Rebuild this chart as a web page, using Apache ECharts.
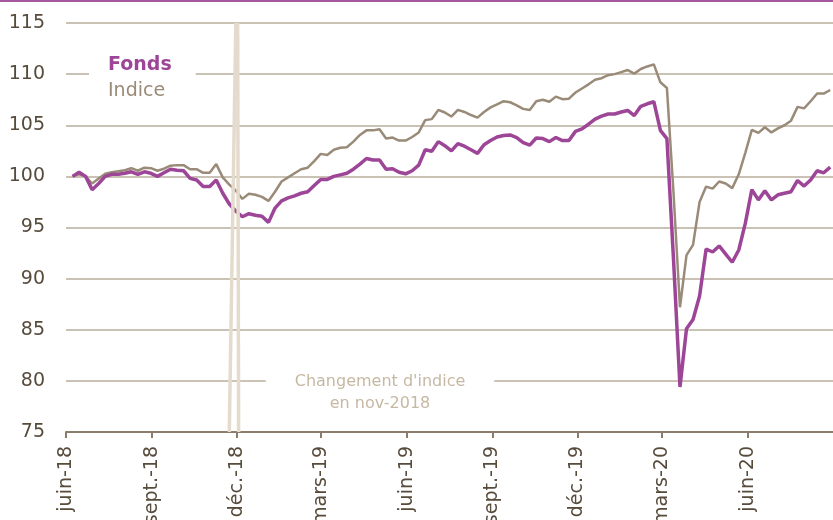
<!DOCTYPE html>
<html>
<head>
<meta charset="utf-8">
<script src="https://cdn.jsdelivr.net/npm/echarts@6/dist/echarts.min.js"></script>
<style>
  html, body { margin: 0; padding: 0; background: #fff; }
  #chart { width: 833px; height: 520px; }
</style>
</head>
<body>
<div id="chart"></div>
<script>
// données hebdomadaires (vendredis), base 100 au 8 juin 2018
var firstDate = '2018-06-08';
var fonds = [
  100.0, 100.4, 100.0, 98.7, 99.3, 100.0, 100.2, 100.2, 100.3, 100.45,
  100.2, 100.45, 100.3, 100.0, 100.35, 100.7, 100.6, 100.55, 99.8, 99.65,
  99.0, 99.0, 99.65, 98.35, 97.3, 96.6, 96.05, 96.35, 96.2, 96.1,
  95.5, 96.9, 97.6, 97.9, 98.1, 98.35, 98.5, 99.1, 99.7, 99.7,
  100.0, 100.15, 100.3, 100.7, 101.2, 101.75, 101.6, 101.6, 100.7, 100.75,
  100.4, 100.25, 100.55, 101.1, 102.6, 102.45, 103.4, 103.0, 102.5, 103.2,
  102.95, 102.6, 102.25, 103.1, 103.5, 103.85, 104.0, 104.05, 103.8, 103.3,
  103.05, 103.75, 103.7, 103.4, 103.8, 103.5, 103.5, 104.4, 104.65, 105.1,
  105.6, 105.9, 106.1, 106.1, 106.3, 106.45, 105.95, 106.85, 107.1, 107.3,
  104.5, 103.7, 92.0, 79.4, 85.1, 86.0, 88.3, 92.9, 92.6, 93.2,
  92.4, 91.6, 92.8, 95.4, 98.7, 97.7, 98.6, 97.7, 98.2, 98.35,
  98.5, 99.6, 99.05, 99.65, 100.55, 100.35, 100.9
];
var indice = [
  100.0, 100.2, 100.0, 99.3, 99.8, 100.25, 100.4, 100.5, 100.6, 100.8,
  100.55, 100.85, 100.8, 100.55, 100.75, 101.05, 101.1, 101.1, 100.7, 100.7,
  100.35, 100.35, 101.2, 99.9, 99.2, 98.6, 97.8, 98.3, 98.2, 98.0,
  97.6, 98.5, 99.5, 99.9, 100.3, 100.7, 100.85, 101.5, 102.2, 102.1,
  102.6, 102.8, 102.85, 103.4, 104.05, 104.5, 104.5, 104.6, 103.7, 103.8,
  103.5, 103.5, 103.85, 104.3, 105.5, 105.6, 106.5, 106.25, 105.85, 106.5,
  106.3, 106.0, 105.75, 106.3, 106.75, 107.05, 107.35, 107.25, 106.95, 106.6,
  106.5, 107.35, 107.5, 107.3, 107.8, 107.55, 107.6, 108.2, 108.6, 109.0,
  109.45, 109.6, 109.9, 110.0, 110.2, 110.4, 110.05, 110.5, 110.75, 110.95,
  109.2, 108.65, 98.5, 87.2, 92.3, 93.3, 97.5, 99.0, 98.8, 99.5,
  99.3, 98.85, 100.2, 102.3, 104.55, 104.25, 104.8, 104.3, 104.7, 105.0,
  105.45, 106.8, 106.65, 107.35, 108.1, 108.1, 108.45
];
var tickDates = ['2018-06-01', '2018-09-01', '2018-12-01', '2019-03-01', '2019-06-01',
                 '2019-09-01', '2019-12-01', '2020-03-01', '2020-06-01'];
var tickLabels = ['juin-18', 'sept.-18', 'déc.-18', 'mars-19', 'juin-19',
                  'sept.-19', 'déc.-19', 'mars-20', 'juin-20'];
var xMin = '2018-06-01', xMax = '2020-08-31';
var yMin = 75, yMax = 115, yStep = 5;
// changement d'indice en nov-2018
var changeTop = ['2018-12-02', '2018-11-30'];
var changeBottom = ['2018-12-03', '2018-11-23'];

var FONT = 'DejaVu Sans';
var PURPLE = '#9d4697';
var GREY = '#9a8b79';
var DAY = 24 * 3600 * 1000;

var t0 = Date.parse(firstDate);
var dates = fonds.map(function (v, i) { return t0 + i * 7 * DAY; });
var tickValues = tickDates.map(function (d) { return Date.parse(d); });

var myChart = echarts.init(document.getElementById('chart'));
myChart.setOption({
  animation: false,
  grid: { left: 66, right: 0, top: 23, bottom: 88, outerBoundsMode: 'none', containLabel: false },
  legend: {
    left: 89, top: 50, orient: 'vertical',
    backgroundColor: '#fff',
    padding: [6, 24, 6, 14],
    itemWidth: 0, itemHeight: 19, itemGap: 7,
    selectedMode: false,
    textStyle: { fontFamily: FONT, fontSize: 19 },
    data: [
      { name: 'Fonds', icon: 'rect', itemStyle: { opacity: 0 },
        textStyle: { color: PURPLE, fontWeight: 'bold' } },
      { name: 'Indice', icon: 'rect', itemStyle: { opacity: 0 },
        textStyle: { color: GREY } }
    ]
  },
  xAxis: {
    type: 'value',
    min: Date.parse(xMin), max: Date.parse(xMax),
    axisLine: { lineStyle: { color: '#8a7d6b', width: 2 } },
    axisTick: { show: true, length: 6, customValues: tickValues,
                lineStyle: { color: '#8a7d6b', width: 2 } },
    axisLabel: {
      customValues: tickValues, rotate: 90, margin: 14,
      color: '#574b3c', fontFamily: FONT, fontSize: 19,
      formatter: function (v) {
        var i = tickValues.indexOf(v);
        return i >= 0 ? tickLabels[i] : '';
      }
    },
    splitLine: { show: false }
  },
  yAxis: {
    type: 'value', min: yMin, max: yMax, interval: yStep,
    axisLine: { show: false }, axisTick: { show: false },
    axisLabel: { margin: 21, color: '#574b3c', fontFamily: FONT, fontSize: 19 },
    splitLine: { lineStyle: { color: '#cbc2b6', width: 2 } }
  },
  graphic: [
    { type: 'rect', shape: { x: 0, y: 0, width: 833, height: 2 }, style: { fill: '#a3589f' } },
    { type: 'text', x: 380, y: 367, z: 100,
      style: {
        text: "Changement d'indice\nen nov-2018",
        fill: '#c6b8a3', font: '16px "DejaVu Sans"', lineHeight: 22,
        align: 'center', verticalAlign: 'top',
        backgroundColor: '#fff', padding: [4, 29]
      } }
  ],
  series: [
    {
      name: 'Indice', type: 'line', showSymbol: false, z: 2,
      lineStyle: { color: GREY, width: 2.5 },
      itemStyle: { color: GREY },
      data: dates.map(function (d, i) { return [d, indice[i]]; })
    },
    {
      name: 'Fonds', type: 'line', showSymbol: false, z: 3,
      lineStyle: { color: PURPLE, width: 3.5 },
      itemStyle: { color: PURPLE },
      data: dates.map(function (d, i) { return [d, fonds[i]]; })
    },
    {
      name: 'changement', type: 'line', data: [], z: 5,
      markLine: {
        silent: true, symbol: 'none', label: { show: false },
        lineStyle: { color: '#e4dbcd', width: 3.5, type: 'solid' },
        data: changeTop.map(function (d, i) {
          return [{ coord: [Date.parse(d), yMax] }, { coord: [Date.parse(changeBottom[i]), yMin] }];
        })
      }
    }
  ]
});
</script>
</body>
</html>
